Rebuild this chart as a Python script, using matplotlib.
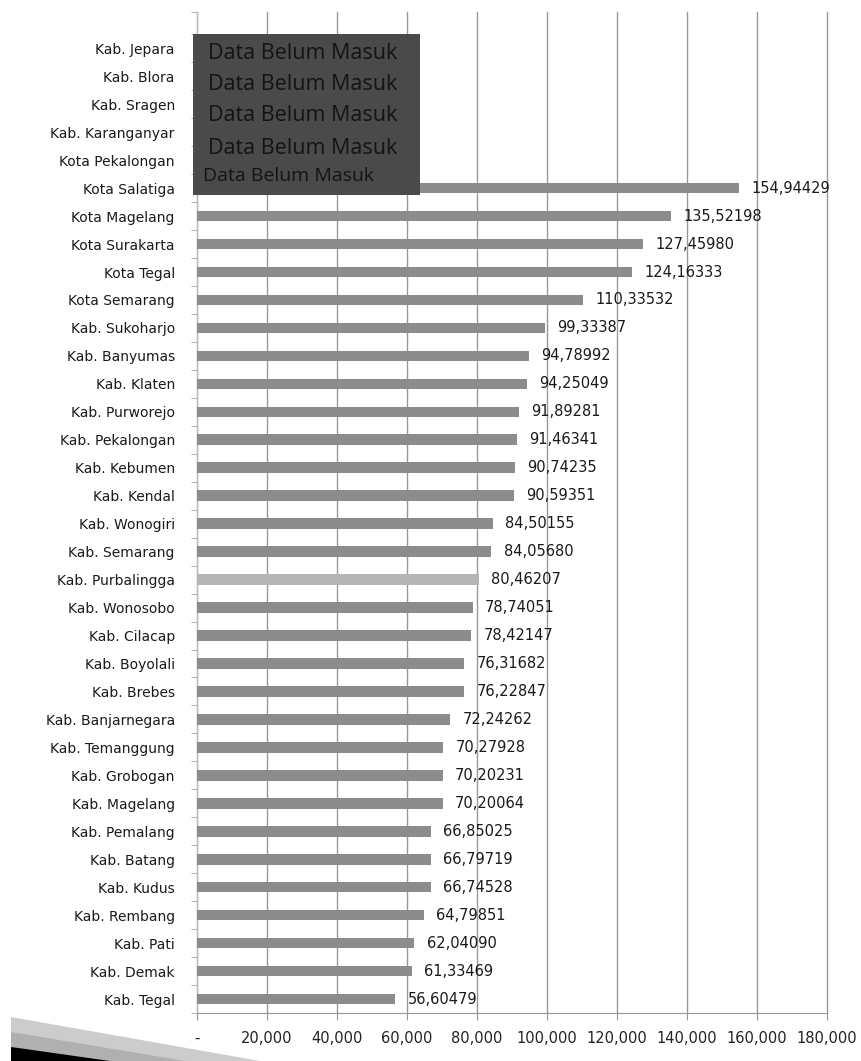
import numpy as np
import matplotlib
matplotlib.use("Agg")
import matplotlib.pyplot as plt
from matplotlib.patches import Polygon, Rectangle

# data (nilai dalam satuan rupiah/ribuan)
wilayah = ["Kab. Jepara", "Kab. Blora", "Kab. Sragen", "Kab. Karanganyar", "Kota Pekalongan",
           "Kota Salatiga", "Kota Magelang", "Kota Surakarta", "Kota Tegal", "Kota Semarang",
           "Kab. Sukoharjo", "Kab. Banyumas", "Kab. Klaten", "Kab. Purworejo", "Kab. Pekalongan",
           "Kab. Kebumen", "Kab. Kendal", "Kab. Wonogiri", "Kab. Semarang", "Kab. Purbalingga",
           "Kab. Wonosobo", "Kab. Cilacap", "Kab. Boyolali", "Kab. Brebes", "Kab. Banjarnegara",
           "Kab. Temanggung", "Kab. Grobogan", "Kab. Magelang", "Kab. Pemalang", "Kab. Batang",
           "Kab. Kudus", "Kab. Rembang", "Kab. Pati", "Kab. Demak", "Kab. Tegal"]
nilai = [None, None, None, None, None,
         154944.29, 135521.98, 127459.80, 124163.33, 110335.32,
         99333.87, 94789.92, 94250.49, 91892.81, 91463.41,
         90742.35, 90593.51, 84501.55, 84056.80, 80462.07,
         78740.51, 78421.47, 76316.82, 76228.47, 72242.62,
         70279.28, 70202.31, 70200.64, 66850.25, 66797.19,
         66745.28, 64798.51, 62040.90, 61334.69, 56604.79]
sorotan = "Kab. Purbalingga"
xticks = [0, 20000, 40000, 60000, 80000, 100000, 120000, 140000, 160000, 180000]
xtick_labels = ["-", "20,000", "40,000", "60,000", "80,000", "100,000",
                "120,000", "140,000", "160,000", "180,000"]
belum_masuk = "Data Belum Masuk"

W, H = 861, 1061
fig = plt.figure(figsize=(W / 100, H / 100), dpi=100)
ax = fig.add_axes([197 / W, 1 - 1013 / H, 630 / W, 1001 / H])

n = len(wilayah)
ypos = np.arange(n)
vals = np.array([v if v is not None else 0 for v in nilai])
colors = ["#b5b5b5" if w == sorotan else "#8c8c8c" for w in wilayah]
ax.barh(ypos, vals, height=0.38, color=colors, zorder=3)

for y, v in zip(ypos, nilai):
    if v is None:
        continue
    lbl = f"{v / 1000:.5f}".replace(".", ",")
    ax.annotate(lbl, (v, y), xytext=(9, 0), textcoords="offset points",
                va="center", ha="left", fontsize=10.5, color="#1a1a1a", zorder=4)

ax.set_xlim(0, 180000)
ax.set_ylim(n - 0.5, -1.3)
ax.set_xticks(xticks)
ax.set_xticklabels(xtick_labels, fontsize=10.5, color="#222222")
ax.set_yticks(ypos)
ax.set_yticklabels(wilayah, fontsize=10, color="#1a1a1a")
ax.set_yticks(list(np.arange(-0.5, n, 1.0)) + [-1.3], minor=True)
ax.tick_params(axis="y", which="major", length=0, pad=16)
ax.tick_params(axis="y", which="minor", length=4, color="#aaaaaa", direction="out")
ax.tick_params(axis="x", length=5, color="#999999", pad=8)
ax.grid(axis="x", color="#999999", linewidth=1, zorder=1)
for line in ax.get_xgridlines():
    line.set_clip_on(False)
for s in ["top", "right"]:
    ax.spines[s].set_visible(False)
ax.spines["left"].set_color("#bbbbbb")
ax.spines["bottom"].set_color("#999999")

# kotak "Data Belum Masuk"
ax.add_patch(Rectangle((-1100, -0.53), 64800, 5.77, facecolor="#4a4a4a",
                       edgecolor="none", zorder=5, clip_on=False))
for yy in [0.17, 1.31, 2.41, 3.59]:
    ax.text(3000, yy, belum_masuk, fontsize=15.5, color="#141414",
            family="Open Sans", va="center", ha="left", zorder=6)
ax.text(1800, 4.58, belum_masuk, fontsize=14, color="#141414",
        family="Open Sans", va="center", ha="left", zorder=6)

# hiasan pojok kiri bawah
def px(pts):
    return [(x / W, 1 - y / H) for x, y in pts]

fig.patches.append(Polygon(px([(11, 1017), (260, 1061), (11, 1061)]),
                           closed=True, facecolor="#cccccc", edgecolor="none",
                           transform=fig.transFigure))
fig.patches.append(Polygon(px([(11, 1032), (185, 1061), (11, 1061)]),
                           closed=True, facecolor="#b0b0b0", edgecolor="none",
                           transform=fig.transFigure))
fig.patches.append(Polygon(px([(11, 1047), (110, 1061), (11, 1061)]),
                           closed=True, facecolor="#000000", edgecolor="none",
                           transform=fig.transFigure))

fig.savefig("out.png", dpi=100)
